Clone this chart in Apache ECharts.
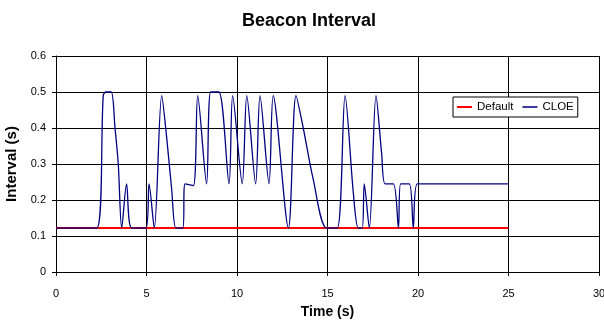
<!DOCTYPE html>
<html>
<head>
<meta charset="utf-8">
<script src="https://cdn.jsdelivr.net/npm/echarts@6/dist/echarts.min.js"></script>
<style>html,body{margin:0;padding:0;background:#fff}#c{width:604px;height:322px}</style>
</head>
<body>
<div id="c"></div>
<script>
var xTicks = [0, 5, 10, 15, 20, 25, 30];
var yTicks = [0, 0.1, 0.2, 0.3, 0.4, 0.5, 0.6];
var defaultT = [0, 25];
var defaultV = [0.122, 0.122];
var cloeT = [0, 2.25, 2.61, 2.75, 3.05, 3.26, 3.44, 3.63, 3.9, 4.18, 4.97, 5.14, 5.43, 5.84, 6.11, 6.39, 6.63, 7.0, 7.13, 7.59, 7.83, 8.32, 8.55, 9.0, 9.56, 9.76, 10.29, 10.54, 11.03, 11.27, 11.77, 12.0, 12.84, 13.26, 13.66, 14.2, 14.95, 15.54, 15.97, 16.43, 16.7, 16.92, 17.03, 17.31, 17.68, 17.99, 18.18, 18.64, 18.92, 19.04, 19.52, 19.74, 19.96, 25.0];
var cloeV = [0.122, 0.122, 0.49, 0.5, 0.5, 0.40, 0.30, 0.122, 0.245, 0.122, 0.122, 0.245, 0.122, 0.49, 0.376, 0.23, 0.122, 0.122, 0.245, 0.24, 0.49, 0.245, 0.5, 0.5, 0.245, 0.49, 0.245, 0.49, 0.245, 0.49, 0.245, 0.49, 0.122, 0.49, 0.40, 0.26, 0.122, 0.122, 0.49, 0.218, 0.122, 0.122, 0.245, 0.122, 0.49, 0.33, 0.245, 0.245, 0.122, 0.245, 0.245, 0.122, 0.245, 0.245];

function pairs(t, v) { return t.map(function (x, i) { return [x, v[i]]; }); }

var chart = echarts.init(document.getElementById('c'), null, {renderer: 'canvas'});
var font = '"Liberation Sans", Arial, sans-serif';
chart.setOption({
  animation: false,
  backgroundColor: '#fff',
  textStyle: {fontFamily: font},
  title: {
    text: 'Beacon Interval', left: 237, top: 7,
    textStyle: {fontSize: 18, fontWeight: 'bold', color: '#000', fontFamily: font}
  },
  grid: {left: 56, right: 5, top: 56, bottom: 50, containLabel: false, outerBoundsMode: 'none'},
  legend: {
    left: 453, top: 97, padding: [4, 4, 4, 4], itemGap: 9,
    borderColor: '#000', borderWidth: 1, backgroundColor: '#fff',
    itemWidth: 15, itemHeight: 2,
    textStyle: {fontSize: 11.5, color: '#000', fontFamily: font},
    data: [{name: 'Default', icon: 'rect'}, {name: 'CLOE', icon: 'rect', itemStyle: {color: '#3a3a9a'}}]
  },
  xAxis: {
    type: 'value', min: xTicks[0], max: xTicks[xTicks.length - 1], interval: 5,
    name: 'Time (s)', nameLocation: 'middle', nameGap: 33,
    nameTextStyle: {fontSize: 14, fontWeight: 'bold', color: '#000', fontFamily: font},
    axisLine: {show: true, lineStyle: {color: '#000', width: 1}},
    axisTick: {show: true, length: 4, lineStyle: {color: '#000'}},
    axisLabel: {fontSize: 11, color: '#000', margin: 16, fontFamily: font},
    splitLine: {show: true, lineStyle: {color: '#000', width: 1}}
  },
  yAxis: {
    type: 'value', min: yTicks[0], max: yTicks[yTicks.length - 1], interval: 0.1,
    name: 'Interval (s)', nameLocation: 'middle', nameGap: 35,
    nameTextStyle: {fontSize: 15, fontWeight: 'bold', color: '#000', fontFamily: font},
    axisLine: {show: true, lineStyle: {color: '#000', width: 1}},
    axisTick: {show: true, length: 4, lineStyle: {color: '#000'}},
    axisLabel: {fontSize: 11, color: '#000', margin: 10, fontFamily: font},
    splitLine: {show: true, lineStyle: {color: '#000', width: 1}}
  },
  series: [
    {
      name: 'Default', type: 'line', symbol: 'none', z: 3,
      itemStyle: {color: '#ff0000'},
      lineStyle: {color: '#ff0000', width: 2},
      data: pairs(defaultT, defaultV)
    },
    {
      name: 'CLOE', type: 'line', symbol: 'none', z: 4,
      smooth: 0.3,
      itemStyle: {color: '#000080'},
      lineStyle: {color: '#000080', width: 1.3},
      data: pairs(cloeT, cloeV)
    }
  ]
});
</script>
</body>
</html>
